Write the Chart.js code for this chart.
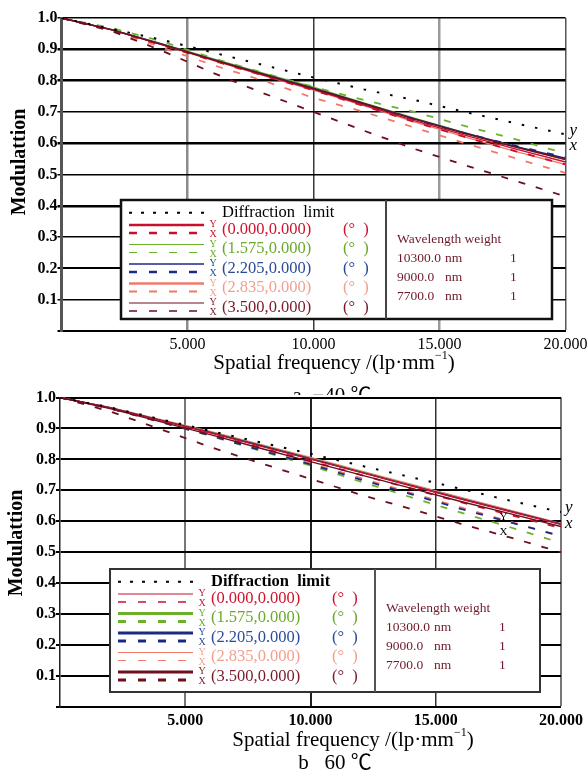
<!DOCTYPE html>
<html>
<head>
<meta charset="utf-8">
<title>MTF</title>
<script src="https://cdn.jsdelivr.net/npm/chart.js@4.4.1/dist/chart.umd.min.js"></script>
<style>
html,body{margin:0;padding:0;background:#fff;}
body{width:587px;height:772px;position:relative;overflow:hidden;}
#cA{position:absolute;left:0;top:0;}
#cB{position:absolute;left:0;top:380px;}
</style>
</head>
<body>
<canvas id="cA" width="587" height="395"></canvas>
<canvas id="cB" width="587" height="392"></canvas>
<script>
// ---------------- data ----------------
const freq = [0, 2, 4, 6, 8, 10, 12, 14, 16, 18, 20];
const yTickLabels = ['', '0.1', '0.2', '0.3', '0.4', '0.5', '0.6', '0.7', '0.8', '0.9', '1.0'];
const xTickLabels = ['', '5.000', '10.000', '15.000', '20.000'];
const fieldLabels = ['(0.000,0.000)', '(1.575,0.000)', '(2.205,0.000)', '(2.835,0.000)', '(3.500,0.000)'];
const waveLabels = ['10300.0', '9000.0', '7700.0'];
const waveWeights = ['1', '1', '1'];
const captions = ['a  \u221240 \u2103', 'b   60 \u2103'];

// panel a : -40 °C   (T = tangential / Y, solid ; S = sagittal / X, dashed)
const aDiff = [1.000, 0.965, 0.930, 0.890, 0.850, 0.810, 0.772, 0.738, 0.700, 0.664, 0.628];
const aT0 = [1.000, 0.962, 0.915, 0.866, 0.818, 0.772, 0.722, 0.672, 0.626, 0.582, 0.540];
const aS0 = [1.000, 0.961, 0.913, 0.864, 0.816, 0.769, 0.719, 0.668, 0.620, 0.575, 0.532];
const aT1 = [1.000, 0.963, 0.917, 0.870, 0.824, 0.779, 0.729, 0.680, 0.634, 0.590, 0.548];
const aS1 = [1.000, 0.968, 0.925, 0.872, 0.825, 0.780, 0.738, 0.700, 0.655, 0.613, 0.567];
const aT2 = [1.000, 0.963, 0.916, 0.868, 0.821, 0.776, 0.727, 0.678, 0.633, 0.590, 0.552];
const aS2 = [1.000, 0.962, 0.914, 0.866, 0.819, 0.773, 0.726, 0.676, 0.632, 0.592, 0.555];
const aT3 = [1.000, 0.962, 0.914, 0.865, 0.817, 0.770, 0.720, 0.668, 0.620, 0.574, 0.532];
const aS3 = [1.000, 0.962, 0.905, 0.850, 0.800, 0.745, 0.700, 0.650, 0.600, 0.552, 0.505];
const aT4 = [1.000, 0.962, 0.915, 0.867, 0.820, 0.774, 0.726, 0.677, 0.631, 0.588, 0.548];
const aS4 = [1.000, 0.958, 0.895, 0.825, 0.760, 0.700, 0.640, 0.582, 0.530, 0.480, 0.430];

// panel b : 60 °C
const bDiff = [1.000, 0.968, 0.930, 0.892, 0.855, 0.818, 0.780, 0.743, 0.705, 0.666, 0.630];
const bT0 = [1.000, 0.966, 0.926, 0.886, 0.843, 0.801, 0.758, 0.715, 0.672, 0.631, 0.590];
const bS0 = [1.000, 0.965, 0.923, 0.881, 0.838, 0.795, 0.750, 0.706, 0.662, 0.620, 0.578];
const bT1 = [1.000, 0.967, 0.927, 0.888, 0.846, 0.803, 0.760, 0.717, 0.674, 0.632, 0.590];
const bS1 = [1.000, 0.965, 0.922, 0.876, 0.828, 0.780, 0.728, 0.678, 0.628, 0.580, 0.530];
const bT2 = [1.000, 0.967, 0.927, 0.887, 0.845, 0.802, 0.759, 0.716, 0.673, 0.632, 0.591];
const bS2 = [1.000, 0.965, 0.921, 0.877, 0.830, 0.784, 0.735, 0.688, 0.640, 0.596, 0.553];
const bT3 = [1.000, 0.968, 0.929, 0.890, 0.848, 0.806, 0.763, 0.720, 0.677, 0.635, 0.593];
const bS3 = [1.000, 0.965, 0.921, 0.878, 0.832, 0.787, 0.740, 0.692, 0.645, 0.598, 0.550];
const bT4 = [1.000, 0.964, 0.922, 0.880, 0.836, 0.793, 0.750, 0.707, 0.664, 0.624, 0.583];
const bS4 = [1.000, 0.955, 0.898, 0.840, 0.788, 0.737, 0.686, 0.640, 0.592, 0.547, 0.500];

// small Y / X annotation inside panel b
const bMarkText = ['Y', 'X'];
const bMarkX = [17.7, 17.7];
const bMarkY = [0.612, 0.566];

// ---------------- styles ----------------
const SERIF = "'Liberation Serif', 'DejaVu Serif', serif";
const SERIF_CJK = "'Liberation Serif', 'Noto Sans CJK SC', serif";
const lineColors = ['#c8102e', '#6cb02c', '#1b2a85', '#f07a6a', '#6e0f1e'];
const textColors = ['#d0122c', '#6aaa2a', '#2a4a9a', '#f2a090', '#7a1a2a'];
const waveColor = '#6e1a2a';

function pts(vals) { return freq.map((f, i) => ({ x: f, y: vals[i] })); }

function seg(ctx, x1, x2, y, color, w, dash) {
  ctx.save();
  ctx.beginPath();
  ctx.setLineDash(dash);
  ctx.strokeStyle = color; ctx.lineWidth = w;
  ctx.moveTo(x1, y); ctx.lineTo(x2, y); ctx.stroke();
  ctx.restore();
}
function text(ctx, s, x, y, font, color, align, base) {
  ctx.font = font; ctx.fillStyle = color;
  ctx.textAlign = align || 'left'; ctx.textBaseline = base || 'middle';
  ctx.fillText(s, x, y);
}

function drawLegend(ctx, L) {
  const x = L.x, y = L.y, w = L.w, h = L.h;
  ctx.save();
  ctx.fillStyle = '#fff';
  ctx.fillRect(x, y, w, h);
  ctx.setLineDash([]);
  ctx.strokeStyle = L.borderColor; ctx.lineWidth = L.borderW;
  ctx.strokeRect(x, y, w, h);
  ctx.beginPath(); ctx.moveTo(x + 265, y); ctx.lineTo(x + 265, y + h);
  ctx.strokeStyle = L.divColor; ctx.lineWidth = L.divW; ctx.stroke();

  const y0 = y + 12.7;
  seg(ctx, x + 8, x + 83, y0, '#000', 2, [3, 9]);
  text(ctx, 'Diffraction  limit', x + 101, y0, L.diffFont + ' 16.5px ' + SERIF, '#000');
  for (let i = 0; i < 5; i++) {
    const cy = y + 29.5 + i * 19.5;
    seg(ctx, x + 8, x + 83, cy - 4.5, lineColors[i], L.tanW[i], []);
    seg(ctx, x + 8, x + 83, cy + 3.5, lineColors[i], L.sagW[i], [8, 12]);
    text(ctx, 'Y', x + 92, cy - 5, '10px ' + SERIF, textColors[i], 'center');
    text(ctx, 'X', x + 92, cy + 5, '10px ' + SERIF, textColors[i], 'center');
    text(ctx, fieldLabels[i], x + 101, cy, '16.5px ' + SERIF, textColors[i]);
    text(ctx, '(\u00b0  )', x + 222, cy, '16.5px ' + SERIF, textColors[i]);
  }
  const rx = x + 276;
  text(ctx, 'Wavelength weight', rx, y + 39, '13.5px ' + SERIF, waveColor);
  for (let k = 0; k < 3; k++) {
    const wy = y + 58 + k * 19;
    text(ctx, waveLabels[k], rx, wy, '13.5px ' + SERIF, waveColor);
    text(ctx, 'nm', x + 324, wy, '13.5px ' + SERIF, waveColor);
    text(ctx, waveWeights[k], x + 389, wy, '13.5px ' + SERIF, waveColor);
  }
  ctx.restore();
}

function drawXTitle(ctx, cx, cy, size) {
  const f1 = size + 'px ' + SERIF, f2 = Math.round(size * 0.58) + 'px ' + SERIF;
  const a = 'Spatial frequency /(lp\u00b7mm', b = '\u22121', c = ')';
  ctx.font = f1; const wa = ctx.measureText(a).width, wc = ctx.measureText(c).width;
  ctx.font = f2; const wb = ctx.measureText(b).width;
  let x = cx - (wa + wb + wc) / 2;
  text(ctx, a, x, cy, f1, '#000'); x += wa;
  text(ctx, b, x, cy - size * 0.36, f2, '#000'); x += wb;
  text(ctx, c, x, cy, f1, '#000');
}

function makePanel(canvasId, P) {
  const ds = [];
  const add = (vals, color, dash, w) => ds.push({
    data: pts(vals), borderColor: color, borderDash: dash, borderWidth: w,
    pointRadius: 0, tension: 0, fill: false
  });
  add(P.diff, '#000', [2.5, 11], 2);
  const order = [4, 0, 2, 1, 3];
  order.forEach(i => { add(P.tan[i], lineColors[i], [], 1.4); add(P.sag[i], lineColors[i], [7, 11], 1.8); });

  const plugin = {
    id: 'deco' + canvasId,
    beforeDraw(chart) {
      if (P.whiteTop) {
        const c = chart.ctx; c.save(); c.fillStyle = '#fff';
        c.fillRect(0, chart.chartArea.top - 2, chart.width, chart.height); c.restore();
      }
    },
    afterDatasetsDraw(chart) {
      const c = chart.ctx;
      drawLegend(c, P.legend);
      if (P.marks) {
        const xs = chart.scales.x, ys = chart.scales.y;
        P.marks.t.forEach((t, k) => text(c, t, xs.getPixelForValue(P.marks.x[k]), ys.getPixelForValue(P.marks.y[k]), '11px ' + SERIF, '#000', 'center'));
      }
    },
    afterDraw(chart) {
      const c = chart.ctx;
      const ca = chart.chartArea;
      c.save();
      c.translate(P.yTitle[0], P.yTitle[1]); c.rotate(-Math.PI / 2);
      text(c, 'Modulattion', 0, 0, 'bold 20px ' + SERIF, '#000', 'center');
      c.restore();
      drawXTitle(c, P.xTitle[0], P.xTitle[1], P.xTitleSize);
      text(c, P.caption, P.cap[0], P.cap[1], P.xTitleSize + 'px ' + SERIF_CJK, '#000', 'center');
      text(c, 'y', ca.right + 4, P.yx[0], 'italic 17px ' + SERIF, '#000');
      text(c, 'x', ca.right + 4, P.yx[1], 'italic 17px ' + SERIF, '#000');
    }
  };

  return new Chart(document.getElementById(canvasId), {
    type: 'line',
    data: { datasets: ds },
    options: {
      responsive: false, animation: false, devicePixelRatio: 1,
      layout: { padding: { left: 0, top: P.padTop, right: P.padRight, bottom: 0 } },
      plugins: { legend: { display: false }, tooltip: { enabled: false } },
      scales: {
        x: {
          type: 'linear', min: 0, max: 20,
          ticks: { stepSize: 5, autoSkip: false, maxRotation: 0, padding: 4, color: '#000',
            font: { family: SERIF, size: 16, weight: P.xTickWeight },
            callback: (v, i) => xTickLabels[i] },
          grid: { drawTicks: false, color: c => P.vGridColor[c.index], lineWidth: c => P.vGridW[c.index] },
          border: { display: true, color: '#000', width: 2 },
          afterFit(s) { s.height = P.xAxisH; s.paddingLeft = 0; s.paddingRight = 0; }
        },
        y: {
          type: 'linear', min: 0, max: 1,
          ticks: { stepSize: 0.1, padding: 0, color: '#000',
            font: { family: SERIF, size: 16, weight: 'bold' },
            callback: (v, i) => yTickLabels[i] },
          grid: { drawTicks: true, tickLength: 4, color: '#000', lineWidth: c => P.hGridW[c.index] },
          border: { display: true, color: P.yBorderColor, width: P.yBorderW },
          afterFit(s) { s.width = P.yAxisW; s.paddingTop = 0; s.paddingBottom = 0; }
        }
      }
    },
    plugins: [plugin]
  });
}

makePanel('cA', {
  diff: aDiff, tan: [aT0, aT1, aT2, aT3, aT4], sag: [aS0, aS1, aS2, aS3, aS4],
  padTop: 18, padRight: 21.5, yAxisW: 61.5, xAxisH: 64,
  xTickWeight: 'normal',
  vGridColor: ['rgba(0,0,0,0)', '#8c8c8c', '#3a3a3a', '#9a9a9a', '#555'],
  vGridW: [0, 2.5, 1.5, 2.5, 1.5],
  hGridW: [2, 1.5, 2, 1.5, 2.5, 1.5, 2.5, 1.5, 2.5, 2.5, 1.5],
  yBorderColor: '#555', yBorderW: 3,
  legend: { x: 121, y: 200, w: 431, h: 119, borderColor: '#111', borderW: 2.5, divColor: '#444', divW: 2,
    tanW: [2.5, 1.2, 1.5, 2.5, 1.2], sagW: [2.5, 1.2, 2.5, 2, 1.5], diffFont: 'normal' },
  yTitle: [20, 162], xTitle: [334, 363], xTitleSize: 21, caption: captions[0], cap: [332, 396],
  yx: [131, 146], whiteTop: false, marks: null
});

makePanel('cB', {
  diff: bDiff, tan: [bT0, bT1, bT2, bT3, bT4], sag: [bS0, bS1, bS2, bS3, bS4],
  padTop: 17.5, padRight: 26, yAxisW: 60, xAxisH: 65,
  xTickWeight: 'bold',
  vGridColor: ['rgba(0,0,0,0)', '#777', '#222', '#333', '#777'],
  vGridW: [0, 2, 2, 1.5, 2],
  hGridW: [2, 2, 2, 2, 2, 2, 2, 2, 2, 2, 2],
  yBorderColor: '#222', yBorderW: 1.5,
  legend: { x: 110, y: 189, w: 430, h: 123, borderColor: '#333', borderW: 2, divColor: '#555', divW: 2,
    tanW: [1.2, 3, 3, 1.2, 3], sagW: [1.5, 3, 3, 1.2, 3], diffFont: 'bold' },
  yTitle: [17, 163], xTitle: [353, 360], xTitleSize: 21, caption: captions[1], cap: [335, 383],
  yx: [128, 144], whiteTop: true,
  marks: { t: bMarkText, x: bMarkX, y: bMarkY }
});
</script>
</body>
</html>
